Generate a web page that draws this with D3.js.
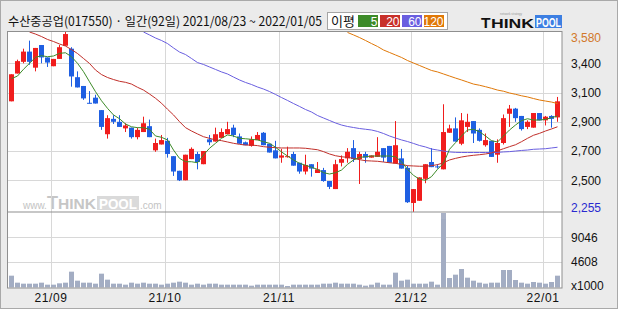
<!DOCTYPE html>
<html>
<head>
<meta charset="utf-8">
<script src="https://cdn.jsdelivr.net/npm/d3@7"></script>
<style>
body { margin: 0; background: #fff; }
svg { display: block; }
</style>
</head>
<body>
<div id="chart"></div>
<script>

// trading days 2021/08/23 ~ 2022/01/05 (92일)
var dates = [
	'21/08/23','21/08/24','21/08/25','21/08/26','21/08/27','21/08/30','21/08/31',
	'21/09/01','21/09/02','21/09/03','21/09/06','21/09/07','21/09/08','21/09/09','21/09/10','21/09/13','21/09/14',
	'21/09/15','21/09/16','21/09/17','21/09/23','21/09/24','21/09/27','21/09/28','21/09/29','21/09/30',
	'21/10/01','21/10/05','21/10/06','21/10/07','21/10/08','21/10/12','21/10/13','21/10/14','21/10/15','21/10/18',
	'21/10/19','21/10/20','21/10/21','21/10/22','21/10/25','21/10/26','21/10/27','21/10/28','21/10/29',
	'21/11/01','21/11/02','21/11/03','21/11/04','21/11/05','21/11/08','21/11/09','21/11/10','21/11/11','21/11/12',
	'21/11/15','21/11/16','21/11/17','21/11/18','21/11/19','21/11/22','21/11/23','21/11/24','21/11/25','21/11/26',
	'21/11/29','21/11/30',
	'21/12/01','21/12/02','21/12/03','21/12/06','21/12/07','21/12/08','21/12/09','21/12/10','21/12/13','21/12/14',
	'21/12/15','21/12/16','21/12/17','21/12/20','21/12/21','21/12/22','21/12/23','21/12/24','21/12/27','21/12/28',
	'21/12/29','21/12/30',
	'22/01/03','22/01/04','22/01/05'
];

var open = [
	3040,3230,3310,3380,3270,3425,3340,3280,3330,3420,
	3400,3205,3145,3030,3065,2980,2815,2920,2900,2855,
	2860,2795,2830,2870,2705,2745,2770,2665,2565,2500,
	2645,2680,2610,2780,2765,2790,2815,2860,2800,2760,
	2735,2775,2825,2750,2705,2655,2660,2680,2620,2560,
	2610,2550,2570,2495,2440,2620,2650,2720,2645,2680,
	2655,2660,2720,2735,2615,2650,2585,2345,2360,2510,
	2625,2595,2575,2825,2855,2750,2865,2905,2845,2740,
	2770,2675,2755,2955,2990,2940,2865,2860,2960,2910,
	2940,2930
];
var high = [
	3225,3325,3400,3455,3405,3425,3340,3330,3425,3580,
	3410,3245,3145,3110,3085,2980,2945,2945,2945,2890,
	2860,2860,2935,2915,2785,2810,2790,2665,2565,2675,
	2725,2695,2700,2810,2860,2855,2900,2880,2820,2765,
	2800,2830,2830,2750,2770,2715,2730,2695,2620,2675,
	2610,2625,2585,2495,2640,2670,2720,2775,2695,2695,
	2670,2795,2720,2735,2905,2715,2600,2440,2520,2610,
	2720,2610,3020,2880,2930,2960,2955,2905,2855,2820,
	2770,2780,2950,3015,2995,2940,2910,2960,2960,2940,
	2945,3070
];
var low = [
	3040,3230,3300,3290,3245,3300,3275,3280,3330,3420,
	3140,3135,3050,3025,3025,2845,2785,2885,2865,2830,
	2785,2780,2830,2795,2695,2745,2655,2530,2495,2500,
	2645,2575,2610,2740,2765,2790,2815,2795,2750,2740,
	2730,2775,2740,2690,2650,2620,2655,2600,2545,2540,
	2525,2550,2490,2440,2440,2595,2620,2625,2475,2620,
	2655,2660,2625,2620,2615,2580,2345,2255,2360,2480,
	2590,2580,2575,2825,2765,2740,2830,2755,2765,2730,
	2660,2620,2745,2865,2900,2840,2850,2860,2910,2875,
	2860,2900
];
var close = [
	3225,3315,3380,3310,3405,3340,3305,3330,3410,3500,
	3210,3135,3060,3025,3025,2865,2925,2900,2865,2875,
	2795,2845,2890,2795,2755,2775,2680,2560,2500,2675,
	2715,2625,2700,2760,2815,2830,2850,2810,2750,2740,
	2780,2810,2740,2690,2650,2670,2665,2600,2560,2605,
	2580,2575,2495,2455,2610,2645,2695,2645,2680,2655,
	2670,2695,2655,2620,2740,2580,2350,2440,2520,2610,
	2590,2590,2830,2855,2765,2910,2900,2820,2770,2775,
	2660,2755,2925,2990,2925,2850,2900,2960,2910,2935,
	2920,3040
];
// 거래량 (x1000)
var volume = [
	2134,871,691,691,691,871,511,511,752,871,
	2856,1232,871,871,691,2495,1413,691,691,511,
	871,691,871,691,691,511,691,871,1052,871,
	511,691,511,691,691,511,511,511,511,511,
	330,511,511,511,511,511,271,511,511,511,
	511,511,691,691,871,691,691,691,511,330,
	511,871,511,511,2676,1232,1413,691,691,691,
	1052,511,13259,1714,2315,3337,1774,1232,871,691,
	871,871,3157,3157,1353,871,691,992,871,691,
	992,2134
];

// 이동평균 (null where the line is not drawn)
var ma5 = [
	3195,3213,3259,3300,3341,3352,3345,3350,3368,3372,
	3345,3300,3243,3174,3106,3044,2992,2947,2921,2885,
	2866,2860,2860,2849,2803,2794,2776,2707,2650,2627,
	2627,2620,2673,2719,2753,2787,2810,2803,2787,2784,
	2780,2776,2764,2753,2726,2694,2666,2639,2616,2603,
	2589,2575,2552,2543,2552,2570,2609,2639,2657,2661,
	2666,2666,2666,2666,2661,2627,2575,2534,2507,2500,
	2525,2575,2616,2712,2757,2803,2844,2849,2832,2803,
	2771,2762,2803,2844,2878,2908,2921,2912,2912,2917,
	2928,2940
];
var ma20 = [
	null,null,null,3514,3500,3483,3463,3449,3432,3418,
	3394,3367,3333,3299,3254,3223,3203,3189,3177,3170,
	3158,3136,3117,3090,3061,3027,2986,2947,2901,2860,
	2837,2817,2798,2787,2776,2771,2762,2753,2746,2741,
	2741,2737,2730,2726,2723,2721,2721,2721,2721,2719,
	2714,2709,2696,2680,2668,2661,2657,2650,2641,2634,
	2632,2630,2625,2620,2616,2609,2600,2598,2596,2596,
	2600,2607,2620,2639,2650,2659,2666,2671,2675,2680,
	2687,2702,2716,2730,2743,2764,2787,2808,2821,2837,
	2851,2866
];
var ma60 = [
	null,null,null,null,null,null,null,null,null,null,
	null,null,null,null,null,null,null,null,null,null,
	null,null,3514,3494,3473,3456,3435,3405,3377,3360,
	3333,3305,3292,3275,3258,3241,3227,3206,3186,3169,
	3155,3138,3124,3107,3087,3066,3046,3025,3005,2984,
	2967,2943,2926,2909,2892,2878,2868,2861,2854,2849,
	2844,2834,2820,2803,2789,2776,2765,2752,2738,2728,
	2714,2707,2700,2694,2691,2690,2690,2690,2690,2690,
	2690,2691,2694,2696,2700,2704,2707,2712,2714,2716,
	2721,2726
];
var ma120 = [
	null,null,null,null,null,null,null,null,null,null,
	null,null,null,null,null,null,null,null,null,null,
	null,null,null,null,null,null,null,null,null,null,
	null,null,null,null,null,null,null,null,null,null,
	null,null,null,null,null,null,null,null,null,null,
	null,null,null,null,null,null,3511,3494,3476,3456,
	3435,3415,3391,3374,3357,3340,3319,3302,3285,3268,
	3251,3241,3227,3213,3199,3186,3172,3158,3150,3140,
	3129,3117,3109,3097,3088,3078,3070,3059,3049,3042,
	3035,3025
];

var priceTicks = [2500, 2700, 2900, 3100, 3300];
var priceTickLabels = ['2,500', '2,700', '2,900', '3,100', '3,400'];
var periodHigh = 3580, periodLow = 2255;
var volTicks = [4608, 9046];
var volTickLabels = ['4608', '9046'];

var maNames = ['5', '20', '60', '120'];
var maColors = ['#3d8b29', '#c12f2a', '#6a5fe0', '#e07808'];
var maLegend = ['#3d8b29', '#c8302a', '#6a5fe0', '#e07808'];

var width = 620,
	height = 310,
	plot = { left: 7.5, right: 562, top: 31.5, mid: 212, bottom: 288 },
	font = 'Liberation Sans, Arial, sans-serif',
	kfont = 'Noto Sans CJK KR, sans-serif',
	upColor = '#f01d1d',
	downColor = '#1f5fe2';

var x = d3.scaleLinear().domain([-0.5, 91.5]).range([8.5, 560.5]);
var y = d3.scaleLinear().domain([2500, 3300]).range([180.3, 63.3]);
var yv = d3.scaleLinear().domain([0, 13530]).range([287.5, 212.5]);

var svg = d3.select('#chart')
	.append('svg')
	.attr('width', width)
	.attr('height', height);

// frame
svg.append('rect')
	.attr('x', 0.5).attr('y', 0.5)
	.attr('width', 617).attr('height', 308)
	.attr('fill', '#ebebeb')
	.attr('stroke', '#a9a9a9');

svg.append('rect')
	.attr('x', plot.left).attr('y', plot.top)
	.attr('width', plot.right - plot.left)
	.attr('height', plot.bottom - plot.top)
	.attr('fill', '#fff');

svg.append('clipPath').attr('id', 'pclip')
	.append('rect')
	.attr('x', 8).attr('y', 32)
	.attr('width', plot.right - 8).attr('height', plot.mid - 32);

// watermark
var wm = svg.append('g').attr('font-family', font);
wm.append('text').attr('x', 23).attr('y', 209).attr('font-size', 10).attr('fill', '#c3c3c3').text('www.');
wm.append('text').attr('x', 47).attr('y', 209).attr('font-size', 18).attr('font-weight', 'bold').attr('fill', '#c6c6c6').text('T');
wm.append('text').attr('x', 58).attr('y', 209).attr('font-size', 14).attr('font-weight', 'bold').attr('fill', '#c6c6c6')
	.attr('textLength', 38).attr('lengthAdjust', 'spacingAndGlyphs').text('HINK');
wm.append('rect').attr('x', 97).attr('y', 196).attr('width', 42).attr('height', 14).attr('fill', '#dadada');
wm.append('text').attr('x', 99).attr('y', 209).attr('font-size', 15).attr('font-weight', 'bold').attr('fill', '#fff')
	.attr('textLength', 38).attr('lengthAdjust', 'spacingAndGlyphs').text('POOL');
wm.append('text').attr('x', 140).attr('y', 209).attr('font-size', 10).attr('fill', '#c3c3c3').text('.com');

// month index (first trading day of each month)
var monthIdx = [];
dates.forEach(function(d, i){
	if (i > 0 && d.slice(3, 5) !== dates[i - 1].slice(3, 5)) monthIdx.push(i);
});

// grid
var grid = svg.append('g').attr('stroke', '#d8d8d8').attr('stroke-width', 1);
monthIdx.forEach(function(i){
	var gx = Math.round(x(i - 0.5)) + 0.5;
	grid.append('line').attr('x1', gx).attr('x2', gx).attr('y1', plot.top).attr('y2', plot.bottom);
});
priceTicks.forEach(function(v){
	var gy = Math.round(y(v)) + 0.5;
	grid.append('line').attr('x1', plot.left).attr('x2', plot.right).attr('y1', gy).attr('y2', gy);
});
volTicks.forEach(function(v){
	var gy = Math.round(yv(v)) + 0.5;
	grid.append('line').attr('x1', plot.left).attr('x2', plot.right).attr('y1', gy).attr('y2', gy);
});

// volume
svg.append('g').selectAll('rect')
	.data(volume)
	.enter()
	.append('rect')
	.attr('x', function(d, i){ return x(i) - 2.5; })
	.attr('y', function(d){ return yv(d); })
	.attr('width', 5)
	.attr('height', function(d){ return yv(0) - yv(d); })
	.attr('fill', '#a3adc3');

// candles
var candles = svg.append('g').attr('clip-path', 'url(#pclip)')
	.selectAll('g')
	.data(d3.range(dates.length))
	.enter()
	.append('g')
	.attr('fill', function(i){ return close[i] > open[i] ? upColor : downColor; })
	.attr('stroke', function(i){ return close[i] > open[i] ? upColor : downColor; });

candles.append('line')
	.attr('x1', function(i){ return x(i); })
	.attr('x2', function(i){ return x(i); })
	.attr('y1', function(i){ return y(high[i]); })
	.attr('y2', function(i){ return y(low[i]); })
	.attr('stroke-width', 1);

candles.append('rect')
	.attr('stroke', 'none')
	.attr('x', function(i){ return x(i) - 2.5; })
	.attr('width', 5)
	.attr('y', function(i){ return y(Math.max(open[i], close[i])); })
	.attr('height', function(i){ return Math.max(1, Math.abs(y(open[i]) - y(close[i]))); });

// moving averages
var line = d3.line()
	.defined(function(d){ return d != null; })
	.x(function(d, i){ return x(i); })
	.y(function(d){ return y(d); });

var maG = svg.append('g').attr('clip-path', 'url(#pclip)');
[ma120, ma60, ma20, ma5].forEach(function(s, k){
	maG.append('path')
		.attr('d', line(s))
		.attr('fill', 'none')
		.attr('stroke', maColors[3 - k])
		.attr('stroke-width', 1);
});

// panel borders
var border = svg.append('g').attr('stroke', '#8f8f8f').attr('fill', 'none');
border.append('rect')
	.attr('x', plot.left).attr('y', plot.top)
	.attr('width', plot.right - plot.left)
	.attr('height', plot.bottom - plot.top);
border.append('line')
	.attr('x1', plot.left).attr('x2', plot.right)
	.attr('y1', plot.mid).attr('y2', plot.mid);
svg.append('rect').attr('x', 441).attr('y', 213).attr('width', 5).attr('height', 6).attr('fill', '#a9b1c6');

// right axis labels
var yAxis = svg.append('g')
	.attr('transform', 'translate(' + plot.right + ',0)')
	.call(d3.axisRight(y).tickValues(priceTicks).tickSize(0).tickPadding(9)
		.tickFormat(function(d, i){ return priceTickLabels[i]; }));
yAxis.select('.domain').remove();
yAxis.attr('font-family', font).attr('font-size', 12);
yAxis.selectAll('text').attr('fill', '#111');

svg.append('text').attr('x', 571).attr('y', 42).attr('font-family', font).attr('font-size', 12)
	.attr('fill', '#d2782a').text(d3.format(',')(periodHigh));
svg.append('text').attr('x', 571).attr('y', 211.5).attr('font-family', font).attr('font-size', 12)
	.attr('fill', '#2a2ad0').text(d3.format(',')(periodLow));

var vAxis = svg.append('g')
	.attr('transform', 'translate(' + plot.right + ',0)')
	.call(d3.axisRight(yv).tickValues(volTicks).tickSize(0).tickPadding(9)
		.tickFormat(function(d, i){ return volTickLabels[i]; }));
vAxis.select('.domain').remove();
vAxis.attr('font-family', font).attr('font-size', 12);
vAxis.selectAll('text').attr('fill', '#111');
svg.append('text').attr('x', 571).attr('y', 290).attr('font-family', font).attr('font-size', 12)
	.attr('fill', '#111').text('x1000');

// x axis
var xAxis = svg.append('g')
	.attr('transform', 'translate(0,' + (plot.bottom + 5) + ')')
	.call(d3.axisBottom(x).tickValues(monthIdx.map(function(i){ return i - 0.5; })).tickSize(0).tickPadding(0)
		.tickFormat(function(d){ return dates[d + 0.5].slice(0, 5); }));
xAxis.select('.domain').remove();
xAxis.attr('font-family', font).attr('font-size', 12);
xAxis.selectAll('text').attr('fill', '#111').attr('dy', '0.71em').attr('letter-spacing', 0.6);

// header
svg.append('text')
	.attr('x', 8).attr('y', 26)
	.attr('font-family', kfont).attr('font-size', 12.5)
	.attr('fill', '#111')
	.attr('textLength', 314).attr('lengthAdjust', 'spacingAndGlyphs')
	.text('수산중공업(017550) · 일간(92일) ' + '20' + dates[0] + ' ~ ' + '20' + dates[dates.length - 1]);

var lg = svg.append('g');
lg.append('rect').attr('x', 327.5).attr('y', 12.5).attr('width', 120).attr('height', 17)
	.attr('fill', '#fff').attr('stroke', '#a5a5a5');
lg.append('text').attr('x', 331).attr('y', 26).attr('font-family', kfont).attr('font-size', 13)
	.attr('fill', '#111').text('이평');
maNames.forEach(function(n, k){
	var bx = 358 + k * 22;
	lg.append('rect').attr('x', bx).attr('y', 15).attr('width', 20).attr('height', 12).attr('fill', maLegend[k]);
	lg.append('text').attr('x', bx + 19.5).attr('y', 25.5).attr('text-anchor', 'end')
		.attr('font-family', font).attr('font-size', 12).attr('fill', '#fff').text(n);
});

// logo
var logo = svg.append('g').attr('font-family', font).attr('font-weight', 'bold');
logo.append('text').attr('x', 481).attr('y', 27.5).attr('font-size', 15.5).attr('fill', '#111').text('T');
logo.append('text').attr('x', 491).attr('y', 27.5).attr('font-size', 12.5).attr('fill', '#111')
	.attr('textLength', 43).attr('lengthAdjust', 'spacingAndGlyphs').text('HINK');
logo.append('rect').attr('x', 535).attr('y', 15).attr('width', 27).attr('height', 13).attr('fill', '#3d7fe2');
logo.append('text').attr('x', 536).attr('y', 27).attr('font-size', 13).attr('fill', '#fff')
	.attr('textLength', 25).attr('lengthAdjust', 'spacingAndGlyphs').text('POOL');
logo.append('text').attr('x', 500).attr('y', 14.5).attr('font-size', 3).attr('font-weight', 'normal')
	.attr('fill', '#999').text('network strategy');

</script>
</body>
</html>
